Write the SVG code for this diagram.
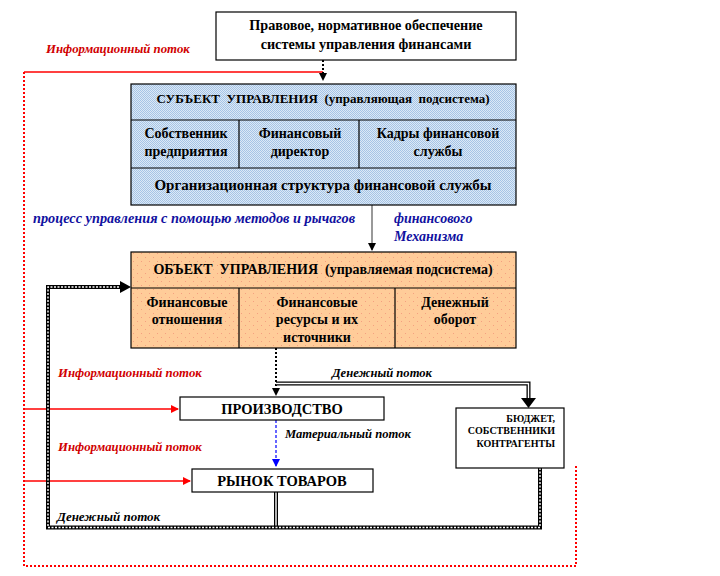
<svg xmlns="http://www.w3.org/2000/svg" width="720" height="576" viewBox="0 0 720 576">
<defs>
<pattern id="blue" width="2" height="2" patternUnits="userSpaceOnUse"><rect width="2" height="2" fill="#dce9f6"/><rect width="1" height="1" fill="#a6c4e6"/><rect x="1" y="1" width="1" height="1" fill="#a6c4e6"/></pattern>
<pattern id="peach" width="8" height="8" patternUnits="userSpaceOnUse"><rect width="8" height="8" fill="#ffcc99"/><rect x="1" y="1" width="1" height="1" fill="#f4a080"/><rect x="5" y="5" width="1" height="1" fill="#f4a080"/></pattern>
<marker id="ab" markerWidth="8" markerHeight="8" refX="7" refY="4" orient="auto" markerUnits="userSpaceOnUse"><path d="M0,0 L8,4 L0,8 Z" fill="#000"/></marker>
<marker id="ar" markerWidth="8" markerHeight="8" refX="7" refY="4" orient="auto" markerUnits="userSpaceOnUse"><path d="M0,0 L8,4 L0,8 Z" fill="#f00"/></marker>
<marker id="abl" markerWidth="8" markerHeight="8" refX="7" refY="4" orient="auto" markerUnits="userSpaceOnUse"><path d="M0,0 L8,4 L0,8 Z" fill="#00f"/></marker>
</defs>
<style>
.box{stroke:#000;stroke-width:1.2}
.t{font-family:'Liberation Serif','DejaVu Serif',serif;font-weight:bold;fill:#000;text-anchor:middle}
.lbl{font-family:'Liberation Serif','DejaVu Serif',serif;font-weight:bold;font-style:italic}
.red{fill:#d00000}
.blue{fill:#1010a0}
.blk{fill:#000}
.dbo{fill:none;stroke:#000;stroke-width:4}
.dbi{fill:none;stroke:#fff;stroke-width:1.4}
.dbl{fill:none;stroke:#fff;stroke-width:1.4;stroke-dasharray:2 1.5}
</style>
<rect width="720" height="576" fill="#fff"/>

<g id="connectors">
  <path d="M323,72 H24" stroke="#f00" stroke-width="1.3" fill="none"/>
  <path d="M24,72 V566 H576 V466" stroke="#f00" stroke-width="2" stroke-dasharray="2 2" fill="none"/>
  <path d="M24,409 H178" stroke="#f00" stroke-width="1.3" fill="none" marker-end="url(#ar)"/>
  <path d="M24,481 H190" stroke="#f00" stroke-width="1.3" fill="none" marker-end="url(#ar)"/>
  <path d="M323,60 V80" stroke="#000" stroke-width="2" stroke-dasharray="2 2" fill="none" marker-end="url(#ab)"/>
  <path d="M372,205 V250" stroke="#555" stroke-width="1.2" fill="none" marker-end="url(#ab)"/>
  <path d="M276,348 V395" stroke="#000" stroke-width="2" stroke-dasharray="2 2" fill="none" marker-end="url(#ab)"/>
  <path d="M276,383.5 H528.5 V400" class="dbo"/>
  <path d="M276,383.5 H528.5 V400" class="dbi"/>
  <path d="M521,398 L536,398 L528.5,408 Z" fill="#000"/>
  <path d="M276,420 V466" stroke="#00f" stroke-width="1.2" stroke-dasharray="3 2" fill="none" marker-end="url(#abl)"/>
  <path d="M276,492 V527.5" class="dbo"/>
  <path d="M276,492 V527.5" class="dbi"/>
  <path d="M540,468 V527.5 H48 V287 H121" class="dbo"/>
  <path d="M540,468 V527.5 H48 V287 H121" class="dbl"/>
  <path d="M120,281 L131,287 L120,293 Z" fill="#000"/>
</g>

<g id="node-law">
  <rect x="216" y="12" width="300" height="48" fill="#fff" class="box"/>
  <text class="t" x="366" y="30" font-size="14.2">Правовое, нормативное обеспечение</text>
  <text class="t" x="366" y="49" font-size="14.2">системы управления финансами</text>
</g>

<g id="node-subject">
  <rect x="131" y="84" width="385" height="121" fill="url(#blue)" class="box"/>
  <path d="M131,120 H516 M131,168 H516 M239,120 V168 M359,120 V168" stroke="#000" stroke-width="1.2"/>
  <text class="t" x="323" y="103" font-size="13" xml:space="preserve">СУБЪЕКТ  УПРАВЛЕНИЯ  (управляющая  подсистема)</text>
  <text class="t" x="186" y="138" font-size="14">Собственник</text>
  <text class="t" x="186" y="156" font-size="14">предприятия</text>
  <text class="t" x="300" y="138" font-size="14">Финансовый</text>
  <text class="t" x="300" y="156" font-size="14">директор</text>
  <text class="t" x="438" y="138" font-size="14">Кадры финансовой</text>
  <text class="t" x="438" y="156" font-size="14">службы</text>
  <text class="t" x="323" y="190" font-size="15">Организационная структура финансовой службы</text>
</g>

<g id="node-object">
  <rect x="131" y="252" width="385" height="96" fill="url(#peach)" class="box"/>
  <path d="M131,288 H516 M239,288 V348 M395,288 V348" stroke="#000" stroke-width="1.2"/>
  <text class="t" x="323" y="274" font-size="14" xml:space="preserve">ОБЪЕКТ  УПРАВЛЕНИЯ  (управляемая подсистема)</text>
  <text class="t" x="187" y="307" font-size="14">Финансовые</text>
  <text class="t" x="187" y="324" font-size="14">отношения</text>
  <text class="t" x="317" y="307" font-size="14">Финансовые</text>
  <text class="t" x="317" y="324" font-size="14">ресурсы и их</text>
  <text class="t" x="317" y="342" font-size="14">источники</text>
  <text class="t" x="455" y="307" font-size="14">Денежный</text>
  <text class="t" x="455" y="324" font-size="14">оборот</text>
</g>

<g id="node-production">
  <rect x="180" y="397" width="204" height="23" fill="#fff" class="box"/>
  <text class="t" x="282" y="414" font-size="14.5">ПРОИЗВОДСТВО</text>
</g>

<g id="node-market">
  <rect x="192" y="469" width="181" height="23" fill="#fff" class="box"/>
  <text class="t" x="282" y="486" font-size="14.5">РЫНОК ТОВАРОВ</text>
</g>

<g id="node-budget">
  <rect x="456" y="408" width="108" height="60" fill="#fff" class="box"/>
  <text class="t" x="555" y="422" font-size="10" style="text-anchor:end">БЮДЖЕТ,</text>
  <text class="t" x="555" y="434" font-size="10" style="text-anchor:end">СОБСТВЕННИКИ</text>
  <text class="t" x="555" y="447" font-size="10" style="text-anchor:end">КОНТРАГЕНТЫ</text>
</g>

<g id="labels">
  <text class="lbl red" x="46" y="53" font-size="12.8">Информационный поток</text>
  <text class="lbl blue" x="33" y="223" font-size="14.3">процесс управления с помощью методов и рычагов</text>
  <text class="lbl blue" x="394" y="223" font-size="14">финансового</text>
  <text class="lbl blue" x="394" y="241" font-size="14">Механизма</text>
  <text class="lbl red" x="58" y="377" font-size="12.8">Информационный поток</text>
  <text class="lbl blk" x="332" y="377" font-size="12.6">Денежный поток</text>
  <text class="lbl blk" x="285" y="438" font-size="12.6">Материальный поток</text>
  <text class="lbl red" x="58" y="451" font-size="12.8">Информационный поток</text>
  <text class="lbl blk" x="57" y="521" font-size="13">Денежный поток</text>
</g>
</svg>
